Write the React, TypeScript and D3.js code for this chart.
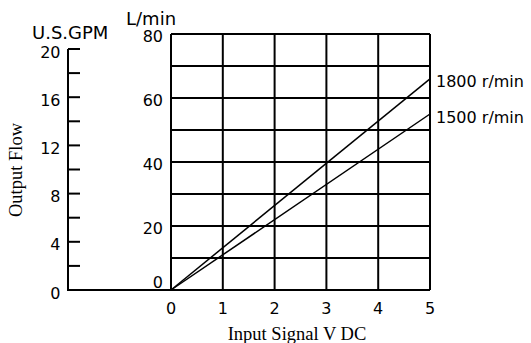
import React from 'react';
import * as d3 from 'd3';

const voltTicks = [0, 1, 2, 3, 4, 5];
const lpmTicks = [0, 10, 20, 30, 40, 50, 60, 70, 80];
const lpmLabels = [0, 20, 40, 60, 80];
const gpmTicks = [0, 2, 4, 6, 8, 10, 12, 14, 16, 18, 20];
const gpmLabels = [0, 4, 8, 12, 16, 20];

const signal = [0, 5];
const flow1800 = [0, 66];
const flow1500 = [0, 55];

const W = 531;
const H = 343;

const sans = '"DejaVu Sans", Verdana, sans-serif';
const serif = '"Liberation Serif", "Times New Roman", serif';

const App = () => {
    const x = d3.scaleLinear().domain([0, 5]).range([171, 430]);
    const y = d3.scaleLinear().domain([0, 80]).range([290, 34]);
    const yGpm = d3.scaleLinear().domain([0, 20]).range([290, 49]);
    const gpmX = 68;

    const line = d3.line<number>()
        .x((d, i) => x(signal[i]))
        .y(d => y(d));

    const series = [
        { name: '1800 r/min', values: flow1800 },
        { name: '1500 r/min', values: flow1500 },
    ];

    return (
        <svg width={W} height={H} style={{ position: 'absolute', left: 0, top: 0, background: '#fff' }}>
            {/* grid */}
            <g stroke="#000" strokeWidth={2}>
                {lpmTicks.map(t => (
                    <line key={'h' + t} x1={x(0)} x2={x(5)} y1={y(t)} y2={y(t)} />
                ))}
                {voltTicks.map(t => (
                    <line key={'v' + t} x1={x(t)} x2={x(t)} y1={y(0)} y2={y(80)} />
                ))}
                {/* GPM axis */}
                <line x1={gpmX} x2={gpmX} y1={yGpm(0)} y2={yGpm(20)} />
                <line x1={gpmX - 1} x2={x(0)} y1={y(0)} y2={y(0)} />
                {gpmTicks.map(t => (
                    <line key={'g' + t} x1={gpmX} x2={gpmX + 12} y1={yGpm(t)} y2={yGpm(t)} />
                ))}
            </g>

            {/* data lines */}
            {series.map(s => (
                <path key={s.name} d={line(s.values) || ''} fill="none" stroke="#000" strokeWidth={1.5} />
            ))}

            <g fontFamily={sans} fontSize={16} fill="#000">
                {lpmLabels.map(t => (
                    <text key={'l' + t} x={163} y={t === 0 ? y(t) - 7.5 : y(t) + 2} textAnchor="end" dominantBaseline="central">{t}</text>
                ))}
                {gpmLabels.map(t => (
                    <text key={'gl' + t} x={60.5} y={yGpm(t) + 3} textAnchor="end" dominantBaseline="central">{t}</text>
                ))}
                {voltTicks.map(t => (
                    <text key={'x' + t} x={x(t)} y={308.5} textAnchor="middle" dominantBaseline="central">{t}</text>
                ))}
                {series.map(s => (
                    <text key={'n' + s.name} x={436} y={y(s.values[1]) + 3} dominantBaseline="central">{s.name}</text>
                ))}
                <text x={32} y={39} fontSize={18}>U.S.GPM</text>
                <text x={126} y={25} fontSize={18}>L/min</text>
            </g>

            <text x={297} y={339.5} textAnchor="middle" fontFamily={serif} fontSize={18.5}>Input Signal V DC</text>
            <text transform="translate(22,170) rotate(-90)" textAnchor="middle" fontFamily={serif} fontSize={18.5}>Output Flow</text>
        </svg>
    );
};

export default App;
